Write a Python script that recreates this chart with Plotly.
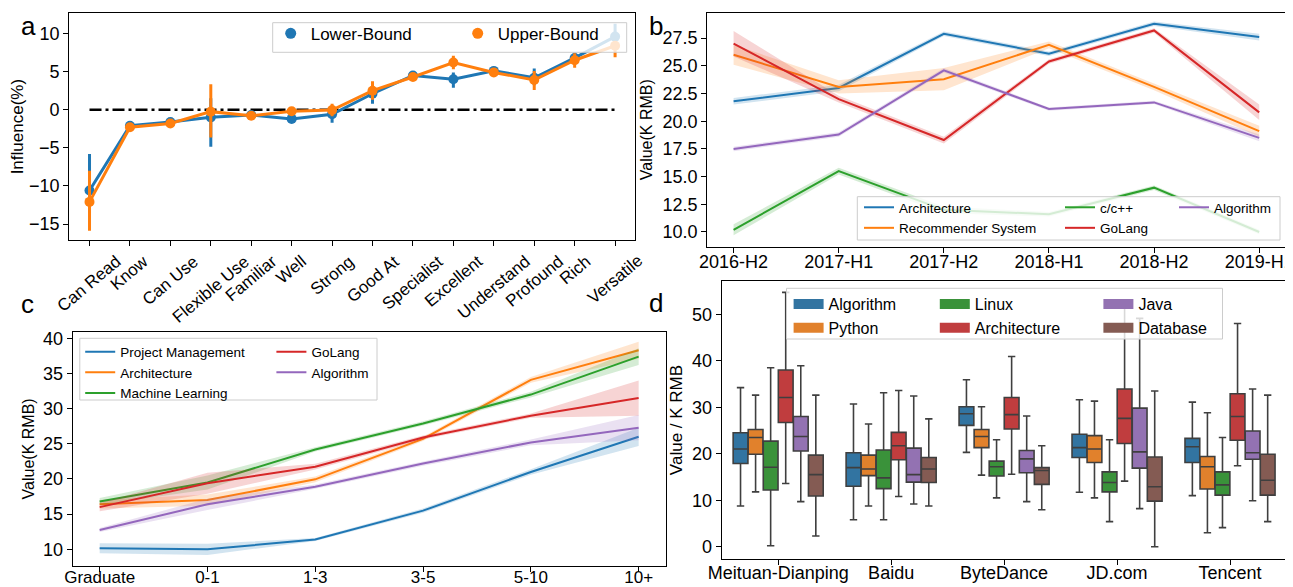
import plotly.graph_objects as go

# the page body has an 8px default margin; the figure is sized so it fits the 1293x587 window
OFF = 8
W, H = 1293 - OFF, 587 - OFF
FONT = "Liberation Sans, Arial, Helvetica, sans-serif"


def fx(p):
    return (p - OFF) / W


def fy(p):
    return 1 - (p - OFF) / H


def rgba(hex_, a):
    h = hex_.lstrip('#')
    return "rgba(%d,%d,%d,%s)" % (int(h[0:2], 16), int(h[2:4], 16), int(h[4:6], 16), a)


BLUE, ORANGE, GREEN, RED, PURPLE = "#1f77b4", "#ff7f0e", "#2ca02c", "#d62728", "#9467bd"

# ---------------- Panel a data ----------------
skill_levels = ["Can Read", "Know", "Can Use", "Flexible Use", "Familiar", "Well", "Strong",
                "Good At", "Specialist", "Excellent", "Understand", "Profound", "Rich", "Versatile"]
lower_bound = [-10.6, -2.1, -1.6, -1.0, -0.7, -1.2, -0.6, 2.1, 4.5, 4.0, 5.1, 4.2, 6.8, 9.6]
lower_err_plus = [4.8, 0.3, 0.3, 2.5, 0.3, 0.3, 0.5, 0.9, 0.3, 0.9, 0.5, 1.2, 0.7, 1.7]
lower_err_minus = [3.0, 0.3, 0.3, 3.85, 0.3, 0.4, 1.1, 1.3, 0.3, 1.1, 0.5, 1.0, 0.7, 1.2]
upper_bound = [-12.1, -2.3, -1.8, -0.25, -0.8, -0.2, -0.05, 2.5, 4.3, 6.2, 4.9, 3.9, 6.5, 8.4]
upper_err_plus = [4.1, 0.3, 0.3, 3.6, 0.3, 0.3, 0.85, 1.25, 0.3, 0.9, 0.5, 1.2, 0.9, 0.6]
upper_err_minus = [3.8, 0.3, 0.3, 3.4, 0.3, 0.3, 0.8, 1.2, 0.3, 0.9, 0.5, 1.3, 1.0, 1.5]
zero_ref = 0

# ---------------- Panel b data ----------------
periods = ["2016-H2", "2017-H1", "2017-H2", "2018-H1", "2018-H2", "2019-H1"]
b_architecture = [21.8, 23.0, 27.9, 26.1, 28.8, 27.6]
b_architecture_ci = [0.3, 0.3, 0.2, 0.2, 0.2, 0.3]
b_recommender = [26.0, 23.1, 23.8, 26.9, 23.1, 19.1]
b_recommender_ci = [0.9, 0.6, 1.0, 0.3, 0.3, 0.5]
b_cpp = [10.2, 15.5, 12.0, 11.6, 14.0, 10.0]
b_cpp_ci = [0.5, 0.3, 0.3, 0.2, 0.2, 0.2]
b_golang = [27.0, 22.0, 18.3, 25.4, 28.2, 20.8]
b_golang_ci = [1.15, 0.3, 0.3, 0.2, 0.2, 0.7]
b_algorithm = [17.5, 18.8, 24.6, 21.1, 21.7, 18.5]
b_algorithm_ci = [0.2, 0.2, 0.2, 0.15, 0.15, 0.3]

# ---------------- Panel c data ----------------
experience = ["Graduate", "0-1", "1-3", "3-5", "5-10", "10+"]
c_project = [10.15, 10.0, 11.4, 15.5, 21.0, 26.0]
c_project_ci = [0.7, 0.8, 0.2, 0.3, 0.4, 1.3]
c_architecture = [16.4, 17.0, 19.95, 25.7, 34.1, 38.3]
c_architecture_ci = [0.6, 0.8, 0.4, 0.3, 0.4, 1.2]
c_ml = [16.8, 19.5, 24.2, 27.9, 32.0, 37.4]
c_ml_ci = [0.5, 1.0, 0.3, 0.3, 0.4, 1.2]
c_golang = [16.0, 19.4, 21.75, 25.9, 29.0, 31.5]
c_golang_ci = [0.6, 1.5, 0.4, 0.3, 0.3, 2.5]
c_algorithm = [12.75, 16.4, 18.9, 22.2, 25.2, 27.3]
c_algorithm_ci = [0.3, 0.8, 0.3, 0.3, 0.4, 1.8]

# ---------------- Panel d data ----------------
companies = ["Meituan-Dianping", "Baidu", "ByteDance", "JD.com", "Tencent"]
box_names = ["Algorithm", "Python", "Linux", "Architecture", "Java", "Database"]
box_colors = ["#3274a1", "#e1812c", "#3a923a", "#c03d3e", "#9372b2", "#845b53"]
box_low = {
    "Algorithm": [8.75, 5.8, 20.3, 11.7, 11.0],
    "Python": [11.8, 8.75, 15.4, 10.5, 3.0],
    "Linux": [0.2, 5.8, 10.5, 5.4, 4.1],
    "Architecture": [13.6, 10.8, 15.6, 14.1, 17.4],
    "Java": [9.7, 9.2, 9.7, 8.2, 9.9],
    "Database": [2.3, 8.75, 7.96, 0.0, 5.4],
}
box_q1 = {
    "Algorithm": [17.9, 13.0, 26.1, 19.2, 18.1],
    "Python": [19.9, 15.3, 21.3, 18.1, 12.4],
    "Linux": [12.2, 12.5, 15.2, 11.8, 11.1],
    "Architecture": [26.7, 18.7, 25.3, 22.2, 22.9],
    "Java": [20.6, 13.9, 15.9, 16.9, 18.8],
    "Database": [10.9, 13.8, 13.4, 9.8, 11.1],
}
box_median = {
    "Algorithm": [21.0, 17.0, 28.6, 21.3, 21.5],
    "Python": [23.5, 16.7, 23.7, 21.0, 17.2],
    "Linux": [17.1, 14.8, 17.2, 13.8, 13.3],
    "Architecture": [32.1, 21.7, 28.4, 27.6, 28.0],
    "Java": [23.7, 15.5, 18.9, 20.4, 20.2],
    "Database": [15.5, 16.7, 16.4, 12.9, 14.3],
}
box_q3 = {
    "Algorithm": [24.5, 20.2, 30.1, 24.2, 23.3],
    "Python": [25.2, 19.7, 25.2, 23.9, 19.4],
    "Linux": [22.7, 20.8, 18.4, 16.1, 16.1],
    "Architecture": [38.0, 24.6, 32.1, 33.9, 32.9],
    "Java": [28.0, 21.2, 20.7, 29.8, 24.9],
    "Database": [19.7, 19.2, 17.0, 19.3, 19.9],
}
box_high = {
    "Algorithm": [34.2, 30.7, 35.9, 31.6, 31.1],
    "Python": [32.6, 26.4, 30.1, 31.3, 28.8],
    "Linux": [38.5, 33.1, 23.0, 23.0, 23.5],
    "Architecture": [54.7, 33.6, 40.9, 51.5, 48.0],
    "Java": [38.9, 32.4, 28.1, 49.1, 33.9],
    "Database": [32.6, 27.5, 21.7, 33.5, 32.6],
}

fig = go.Figure()

# ================= Panel a =================
fig.add_trace(go.Scatter(x=[skill_levels[0], skill_levels[-1]], y=[zero_ref, zero_ref], mode="lines",
                         line=dict(color="black", width=2.5, dash="12px,4px,3px,4px"),
                         showlegend=False, hoverinfo="skip", xaxis="x", yaxis="y"))
for vals, ep, em, col, name in [(lower_bound, lower_err_plus, lower_err_minus, BLUE, "Lower-Bound"),
                                (upper_bound, upper_err_plus, upper_err_minus, ORANGE, "Upper-Bound")]:
    fig.add_trace(go.Scatter(x=skill_levels, y=vals, mode="lines+markers",
                             line=dict(color=col, width=3), marker=dict(color=col, size=10),
                             error_y=dict(type="data", symmetric=False, array=ep, arrayminus=em,
                                          color=col, thickness=3, width=0),
                             showlegend=False, xaxis="x", yaxis="y"))
    fig.add_trace(go.Scatter(x=[None], y=[None], mode="markers", marker=dict(color=col, size=11),
                             name=name, legend="legend", xaxis="x", yaxis="y"))


def add_band_lines(xcats, series, xa, ya, legends):
    for (y, ci, col, name), (lg, rank) in zip(series, legends):
        up = [v + c for v, c in zip(y, ci)]
        lo = [v - c for v, c in zip(y, ci)]
        fig.add_trace(go.Scatter(x=list(xcats) + list(xcats)[::-1], y=up + lo[::-1], fill="toself",
                                 fillcolor=rgba(col, 0.2), line=dict(width=0), mode="lines",
                                 hoverinfo="skip", showlegend=False, xaxis=xa, yaxis=ya))
        fig.add_trace(go.Scatter(x=xcats, y=y, mode="lines", line=dict(color=col, width=2),
                                 name=name, legend=lg, legendrank=rank, xaxis=xa, yaxis=ya))


# ================= Panel b =================
add_band_lines(periods, [
    (b_architecture, b_architecture_ci, BLUE, "Architecture"),
    (b_recommender, b_recommender_ci, ORANGE, "Recommender System"),
    (b_cpp, b_cpp_ci, GREEN, "c/c++"),
    (b_golang, b_golang_ci, RED, "GoLang"),
    (b_algorithm, b_algorithm_ci, PURPLE, "Algorithm"),
], "x2", "y2", [("legend2", 1), ("legend2", 2), ("legend3", 1), ("legend3", 2), ("legend4", 1)])

# ================= Panel c =================
add_band_lines(experience, [
    (c_project, c_project_ci, BLUE, "Project Management"),
    (c_architecture, c_architecture_ci, ORANGE, "Architecture"),
    (c_ml, c_ml_ci, GREEN, "Machine Learning"),
    (c_golang, c_golang_ci, RED, "GoLang"),
    (c_algorithm, c_algorithm_ci, PURPLE, "Algorithm"),
], "x3", "y3", [("legend5", 1), ("legend5", 2), ("legend5", 3), ("legend6", 1), ("legend6", 2)])

# ================= Panel d =================
d_legends = ["legend7", "legend7", "legend8", "legend8", "legend9", "legend9"]
for i, (name, col) in enumerate(zip(box_names, box_colors)):
    fig.add_trace(go.Box(x=companies, q1=box_q1[name], median=box_median[name], q3=box_q3[name],
                         lowerfence=box_low[name], upperfence=box_high[name],
                         fillcolor=col, line=dict(color="#3f3f3f", width=1.6), whiskerwidth=0.5,
                         boxpoints=False, name=name, showlegend=False, offsetgroup=name,
                         xaxis="x4", yaxis="y4"))
    fig.add_trace(go.Scatter(x=[None], y=[None], mode="lines", line=dict(color=col, width=10),
                             name=name, legend=d_legends[i], legendrank=i, xaxis="x4", yaxis="y4"))

# ================= Layout =================
tickfont = dict(family=FONT, size=18, color="black")
common = dict(showline=True, mirror=True, linecolor="black", linewidth=1.2, ticks="outside",
              ticklen=5, tickwidth=1.2, tickcolor="black", showgrid=False, zeroline=False,
              tickfont=tickfont, automargin=False)
common_c_x = dict(common, tickfont=dict(family=FONT, size=17, color="black"))

layout = dict(
    width=W, height=H, margin=dict(l=0, r=0, t=0, b=0, autoexpand=False),
    paper_bgcolor="white", plot_bgcolor="white",
    font=dict(family=FONT, color="black"),
    boxmode="group", boxgap=0.2, boxgroupgap=0.02,
    xaxis=dict(domain=[fx(69.3), fx(635.3)], anchor="y", type="category",
               categoryorder="array", categoryarray=skill_levels, range=[-0.5, 13.5],
               showticklabels=False, **common),
    yaxis=dict(domain=[fy(240), fy(13.3)], anchor="x", range=[-17.1, 12.66],
               tickvals=[-15, -10, -5, 0, 5, 10],
               title=dict(text="Influence(%)", font=dict(family=FONT, size=17), standoff=5), **common),
    xaxis2=dict(domain=[fx(707.3), fx(1285.5)], anchor="y2", type="category",
                categoryorder="array", categoryarray=periods, range=[-0.25, 5.25],
                ticklabelstandoff=-6, **common),
    yaxis2=dict(domain=[fy(246.7), fy(12.7)], anchor="x2", range=[8.67, 29.8],
                tickvals=[10, 12.5, 15, 17.5, 20, 22.5, 25, 27.5], tickformat=".1f",
                title=dict(text="Value(K RMB)", font=dict(family=FONT, size=16), standoff=5), **common),
    xaxis3=dict(domain=[fx(72.7), fx(665.6)], anchor="y3", type="category",
                categoryorder="array", categoryarray=experience, range=[-0.25, 5.25],
                ticklabelstandoff=-10, **common_c_x),
    yaxis3=dict(domain=[fy(566), fy(331.7)], anchor="x3", range=[7.63, 40.94],
                tickvals=[10, 15, 20, 25, 30, 35, 40],
                title=dict(text="Value(K RMB)", font=dict(family=FONT, size=16), standoff=4), **common),
    xaxis4=dict(domain=[fx(721.7), fx(1286.5)], anchor="y4", type="category",
                categoryorder="array", categoryarray=companies, range=[-0.5, 4.5],
                ticklabelstandoff=-8, **common),
    yaxis4=dict(domain=[fy(559.3), fy(280.7)], anchor="x4", range=[-2.7, 57.2],
                tickvals=[0, 10, 20, 30, 40, 50],
                title=dict(text="Value / K RMB", font=dict(family=FONT, size=17), standoff=5), **common),
)


def leg(xp, yp, size, orientation="v", entrywidth=None):
    d = dict(x=fx(xp), y=fy(yp), xanchor="left", yanchor="top", orientation=orientation,
             bgcolor="rgba(0,0,0,0)", borderwidth=0, font=dict(family=FONT, size=size, color="black"),
             tracegroupgap=0)
    if entrywidth is not None:
        d["entrywidth"] = entrywidth
    return d


layout["legend"] = leg(270.7, 15.8, 17, "h", 142)
layout["legend2"] = leg(859, 192, 13.5)
layout["legend3"] = leg(1060, 192, 13.5)
layout["legend4"] = leg(1174, 192, 13.5)
layout["legend5"] = leg(80.2, 336.5, 13.5)
layout["legend6"] = leg(271.4, 336.5, 13.5)
layout["legend7"] = leg(788.6, 287, 16)
layout["legend8"] = leg(934.8, 287, 16)
layout["legend9"] = leg(1098.4, 287, 16)

# legend frames
frames = [(272.7, 22.7, 626.7, 52.3), (857.3, 196.7, 1280, 240), (79.8, 338.3, 377, 400),
          (786.5, 288.3, 1222.5, 339)]
shapes = []
for x0, y0, x1, y1 in frames:
    shapes.append(dict(type="rect", xref="paper", yref="paper", x0=fx(x0), x1=fx(x1), y0=fy(y1), y1=fy(y0),
                       fillcolor="rgba(255,255,255,0.8)", line=dict(color="#cccccc", width=1), layer="above"))
layout["shapes"] = shapes

annotations = []
# rotated category labels for panel a
for cat in skill_levels:
    annotations.append(dict(x=cat, xref="x", y=fy(249), yref="paper", text=cat, textangle=-40,
                            xanchor="center", yanchor="top", showarrow=False,
                            font=dict(family=FONT, size=17, color="black")))
# panel letters (top ones kept just inside the figure edge)
for letter, xp, yp in [("a", 28, 8.5), ("b", 655.6, 8.5), ("c", 27, 304.3), ("d", 656, 302.7)]:
    anchor_y = "top" if yp < 20 else "middle"
    annotations.append(dict(x=fx(xp), y=fy(yp), xref="paper", yref="paper", text=letter,
                            xanchor="center", yanchor=anchor_y, showarrow=False,
                            font=dict(family=FONT, size=26, color="black")))
layout["annotations"] = annotations

fig.update_layout(**layout)
fig.write_html("out.html")
